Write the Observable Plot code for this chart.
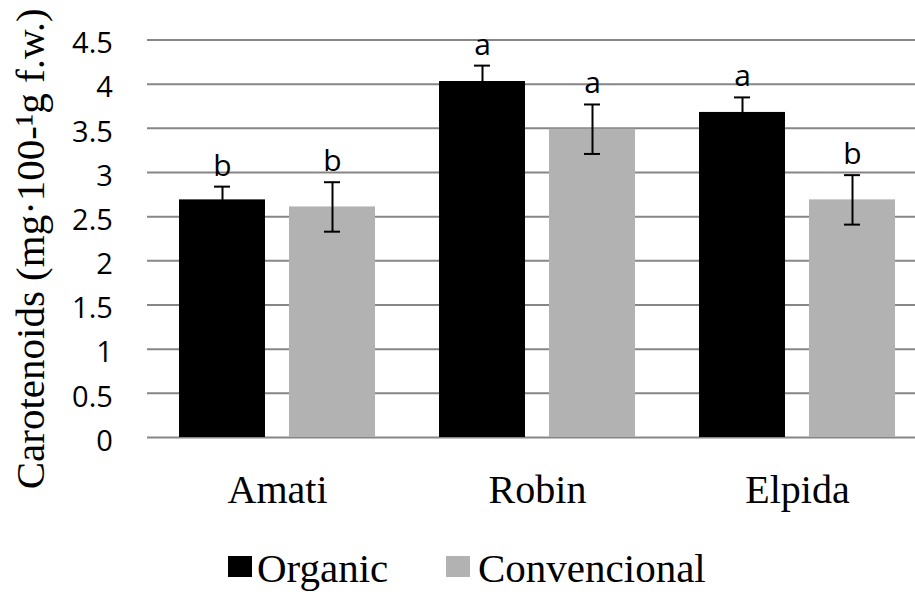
<!DOCTYPE html>
<html><head><meta charset="utf-8">
<script src="https://cdn.jsdelivr.net/npm/d3@7"></script>
<script src="https://cdn.jsdelivr.net/npm/@observablehq/plot@0.6"></script>
<style>
html,body{margin:0;padding:0;background:#fff;overflow:hidden;width:915px;height:592px;}
#chart svg{display:block;}
#legend{position:relative;width:915px;height:62px;font-family:"Liberation Serif","Times New Roman",serif;}
.sw{position:absolute;width:24px;height:21px;}
.lt{position:absolute;font-size:41px;line-height:40px;white-space:nowrap;color:#000;}
</style></head><body>
<div id="chart"></div>
<div id="legend"></div>
<script>
const categories = ["Amati", "Robin", "Elpida"];
const series = ["Organic", "Convencional"];
const seriesColors = ["#000000", "#b2b2b2"];
const organic = [2.69, 4.03, 3.68];
const organicErr = [0.15, 0.18, 0.17];
const organicSig = ["b", "a", "a"];
const convencional = [2.61, 3.49, 2.69];
const convencionalErr = [0.28, 0.28, 0.28];
const convencionalSig = ["b", "a", "b"];
const yTicks = [0, 0.5, 1, 1.5, 2, 2.5, 3, 3.5, 4, 4.5];
const yTickLabels = ["0", "0.5", "1", "1.5", "2", "2.5", "3", "3.5", "4", "4.5"];
const yTitle = "Carotenoids (mg\u00b7100-\u00b9g f.w.)";

const data = categories.flatMap((c, i) => [
  {category: c, series: series[0], value: organic[i], err: organicErr[i], sig: organicSig[i]},
  {category: c, series: series[1], value: convencional[i], err: convencionalErr[i], sig: convencionalSig[i]}
]);
const hi = d => d.value + d.err;
const lo = d => d.value - d.err;

const plot = Plot.plot({
  width: 915, height: 530,
  marginTop: 39.5, marginBottom: 93, marginLeft: 146, marginRight: 0,
  fx: {domain: categories, range: [146.3, 928.3], padding: 0, label: null},
  x: {domain: series, paddingInner: 0.217, paddingOuter: 0.288, axis: null},
  y: {domain: [0, 4.5], label: null},
  color: {domain: series, range: seriesColors},
  marks: [
    Plot.ruleY(yTicks, {stroke: "#868686", strokeWidth: 2}),
    Plot.barY(data, {fx: "category", x: "series", y: "value", fill: "series"}),
    Plot.ruleX(data, {fx: "category", x: "series", y1: lo, y2: hi, stroke: "#000", strokeWidth: 2}),
    Plot.tickY(data, {fx: "category", x: "series", y: hi, stroke: "#000", strokeWidth: 2, insetLeft: 35, insetRight: 35}),
    Plot.tickY(data, {fx: "category", x: "series", y: lo, stroke: "#000", strokeWidth: 2, insetLeft: 35, insetRight: 35}),
    Plot.text(data, {fx: "category", x: "series", y: hi, text: "sig", dy: -11, lineAnchor: "bottom",
      fontSize: 30, fontFamily: "Open Sans", fill: "#000"}),
    Plot.axisY({ticks: yTicks, tickFormat: d => yTickLabels[yTicks.indexOf(d)], tickSize: 0, tickPadding: 34.6,
      fontSize: 29, fontFamily: "Open Sans", dy: 4, label: null, fill: "#000"}),
    Plot.axisFx({anchor: "bottom", tickSize: 0, tickPadding: 37, fontSize: 40,
      fontFamily: "Liberation Serif", label: null, fill: "#000"}),
    Plot.text([yTitle], {fx: [categories[0]], text: d => d, frameAnchor: "left", rotate: -90,
      textAnchor: "middle", lineAnchor: "top",
      dx: -133, dy: 10, fontSize: 41, fontFamily: "Liberation Serif", fill: "#000"})
  ]
});
document.getElementById("chart").appendChild(plot);

const legend = document.getElementById("legend");
const swLeft = [228, 446];
const txtLeft = [257, 478];
series.forEach((s, i) => {
  const sw = document.createElement("div");
  sw.className = "sw";
  sw.style.left = swLeft[i] + "px";
  sw.style.top = "26px";
  sw.style.background = seriesColors[i];
  legend.appendChild(sw);
  const t = document.createElement("div");
  t.className = "lt";
  t.style.left = txtLeft[i] + "px";
  t.style.top = "18px";
  t.textContent = s;
  legend.appendChild(t);
});
</script>
</body></html>
